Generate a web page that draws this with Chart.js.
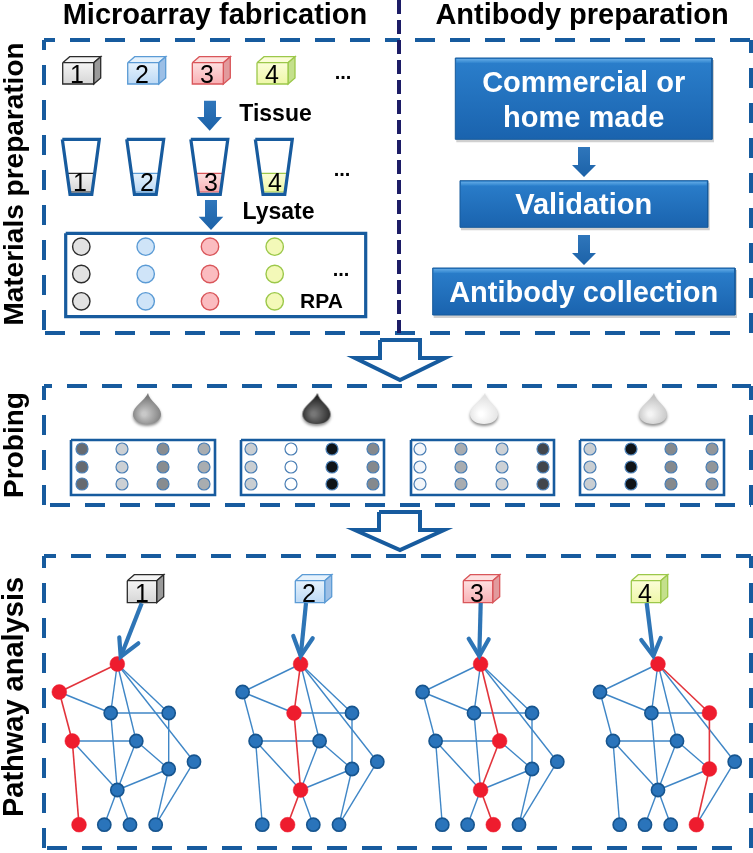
<!DOCTYPE html>
<html><head><meta charset="utf-8">
<style>html,body{margin:0;padding:0;background:#fff}canvas{display:block}</style>
<script src="https://cdn.jsdelivr.net/npm/chart.js@4"></script>
</head><body><canvas id="c" width="753" height="853"></canvas>
<script>
// ---- values ----
const sampleIds = ['1','2','3','4'];
const sampleFill = ['#d6d6d6','#bcd9f5','#f9b0b4','#eef7a8'];
const sampleDot = ['#e2e2e2','#cfe4f8','#fbbcc0','#f3f9b8'];
const sampleFillLight = ['#f4f4f4','#e6f2fc','#fde0e0','#fbfdd8'];
const sampleStroke = ['#2b2b2b','#5b9bd5','#d9565a','#9cc84a'];
const sampleSide = ['#9a9a9a','#9cbfe6','#e29a9c','#c4e08c'];
const cubeLeft = [62.7,127.7,192.3,257];
const beakerLeft = [62.3,126.7,190.8,255.3];
const rpaX = [81.3,145.7,210,274.7];
const rpaY = [246.7,274,301.3];
const cubeLeft2 = [127.3,295.3,463.3,631.3];
const netOffset = [0,183.3,363.3,540.7];
const netNodes = {A:[117.3,664],B:[59.3,692],C:[110.7,713],D:[168.7,713],E:[72.3,741],F:[136.3,741],G:[168.7,769],H:[194,761.7],I:[117.3,790],J:[79,824.7],K:[104.3,824.7],L:[130,824.7],M:[155.7,824.7]};
const netEdges = ['AB','BC','BE','AC','AF','AD','AH','CD','CI','EF','EI','EJ','FG','FI','DG','GI','GM','HM','IK','IL'];
const redPaths = ['ABEJ','ACIK','AFIL','ADGM'];
const sampleArrows = [
 [[141.7,603.3],[120.7,656.7],[119.3,637.3],[138.3,643.3]],
 [[306,603],[300.7,656],[293.3,636],[312.7,638.3]],
 [[480.7,603],[479.3,656],[468.7,638.7],[488.7,639.3]],
 [[646.7,603],[653.3,656],[641.3,640],[660.7,638]]];
const rackLeft = [71,241,411,580];
const rackRight = [215,384,554,724];
const rackDotX = [[82,122,163,204],[251,291,332,373],[420,461,502,543],[590,631,671,712]];
const rackDotY = [449,467,484];
const rackGrey = [['#666a70','#ccd0d4','#888c90','#a9adb0'],['#c9ced2','#ffffff','#0f1418','#85898d'],['#f3f6fa','#a8acb0','#cdd1d5','#42464c'],['#c9ced2','#101418','#85898d','#92969a']];
const dropX = [147,316.5,484,653];
const dropTone = [['#c8c8c8','#7a7a7a'],['#777777','#242424'],['#ffffff','#e2e2e2'],['#f4f4f4','#c4c4c4']];
const buttons = [[455.3,58,712,139.3],[460,180.7,707.7,227.3],[432.7,268,735,315]];
const labels = [
 ['Microarray fabrication',215,24,'bold 29px "Liberation Sans"','#000',0],
 ['Antibody preparation',582,24,'bold 29px "Liberation Sans"','#000',0],
 ['Materials preparation',23,184,'bold 28px "Liberation Sans"','#000',-90],
 ['Probing',23,445,'bold 28px "Liberation Sans"','#000',-90],
 ['Pathway analysis',23,697,'bold 29px "Liberation Sans"','#000',-90],
 ['Tissue',275.5,121,'bold 23px "Liberation Sans"','#000',0],
 ['Lysate',278.5,219,'bold 23px "Liberation Sans"','#000',0],
 ['RPA',321.5,308,'bold 21px "Liberation Sans"','#000',0],
 ['...',343,79,'bold 20px "Liberation Sans"','#000',0],
 ['...',342,176,'bold 20px "Liberation Sans"','#000',0],
 ['...',341,276,'bold 20px "Liberation Sans"','#000',0],
 ['Commercial or',583.7,92,'bold 29px "Liberation Sans"','#fff',0],
 ['home made',583.7,127,'bold 29px "Liberation Sans"','#fff',0],
 ['Validation',583.7,214,'bold 29px "Liberation Sans"','#fff',0],
 ['Antibody collection',583.7,302,'bold 29px "Liberation Sans"','#fff',0]
];
const numberY1 = 83, numberY2 = 191, numberY3 = 602;
const numberX1 = [77,142,207,272], numberX2 = [80,147,211,275], numberX3 = [142,309,477,645];

// marks may sit on the canvas edge: no automatic inset around the plot
Chart.registry.getController('scatter').prototype.getMaxOverflow = function(){return 0;};

// ---- dataset helpers ----
const BLUE='#175b9e';
const gctx=document.createElement('canvas').getContext('2d');
function vgrad(y1,y2,c1,c2){const g=gctx.createLinearGradient(0,y1,0,y2);g.addColorStop(0,c1);g.addColorStop(1,c2);return g;}
const P=a=>a.map(p=>({x:p[0],y:p[1]}));
const ds=[];
function line(pts,color,w,dash,off,cap){ds.push({data:P(pts),showLine:true,fill:false,borderColor:color,borderWidth:w,borderDash:dash||[],borderDashOffset:off||0,borderCapStyle:cap||'butt',pointRadius:0,tension:0,clip:false});}
function poly(pts,fill,stroke,w){const c=pts.concat([pts[0]]);ds.push({data:P(c),showLine:true,fill:'shape',backgroundColor:fill,borderColor:stroke||'rgba(0,0,0,0)',borderWidth:w||0,borderJoinStyle:'miter',pointRadius:0,tension:0,clip:false});}
function dots(pts,fills,strokes,r,w){ds.push({data:P(pts),showLine:false,pointRadius:r,pointBackgroundColor:fills,pointBorderColor:strokes,pointBorderWidth:w,clip:false});}
function rect(x1,y1,x2,y2){return [[x1,y1],[x2,y1],[x2,y2],[x1,y2]];}

// panels
const D=[20,15];
line([[44,40],[399,40]],BLUE,4,D,9);line([[399,40],[751,40]],BLUE,4,D,19);
line([[44,40],[44,333]],BLUE,4,D,10);line([[44,333],[737,333]],BLUE,4,D,34);
line([[751,40],[751,333]],BLUE,4,D,7);
line([[399,0],[399,333]],'#1c1c66',4,[14,6],0);
line([[44,386],[751,386]],BLUE,4,D,12);line([[44,386],[44,505]],BLUE,4,D,6);
line([[44,505],[751,505]],BLUE,4,D,29);line([[751,386],[751,505]],BLUE,4,D,6);
line([[44,556],[751,556]],BLUE,4,D,8);line([[44,556],[44,848]],BLUE,4,D,8);
line([[44,848],[740,848]],BLUE,4,D,32);line([[751,556],[751,848]],BLUE,4,D,8);

// hollow arrows
poly([[380,340],[420,340],[420,358],[445,358],[400,380],[355,358],[380,358]],'#fff',BLUE,4);
poly([[379,512],[420,512],[420,530],[444,530],[400,550],[355,530],[379,530]],'#fff',BLUE,4);

// cubes
function cube(l,t,w,h,i){
 poly([[l,t],[l+7,t-6],[l+w+7,t-6],[l+w,t]],sampleFillLight[i],sampleStroke[i],1.3);
 poly([[l+w,t],[l+w+7,t-6],[l+w+7,t+h-6],[l+w,t+h]],sampleSide[i],sampleStroke[i],1.3);
 poly(rect(l,t,l+w,t+h),vgrad(t,t+h,sampleFillLight[i],sampleFill[i]),sampleStroke[i],1.3);
}
cubeLeft.forEach((l,i)=>cube(l,62.7,31,21.3,i));
cubeLeft2.forEach((l,i)=>cube(l,580.7,29.4,22,i));

// filled down arrows
function block(x1,x2,top,wing,wl,wr,tx,ty){poly([[x1,top],[x2,top],[x2,wing],[wr,wing],[tx,ty],[wl,wing],[x1,wing]],vgrad(top,ty,'#2f76bb','#1c62a8'));}
block(204,216,100.7,117,197,222,209.7,130.7);
block(205,217,200,216.7,198.7,223.3,211,230);
block(578,590,147,165,572,596,584,177);
block(578,590,235,253,572,596,584,265);

// beakers
beakerLeft.forEach((l,i)=>{
 poly([[l+4.5,173.3],[l+32.5,173.3],[l+29.5,192],[l+7.5,192]],vgrad(173,192,sampleFillLight[i],sampleFill[i]),sampleStroke[i],1.2);
 line([[l,139.3],[l+37,139.3],[l+29.5,194.3],[l+7.7,194.3],[l,139.3]],BLUE,3.2);
});

// RPA
line([[65.7,233.3],[365.7,233.3],[365.7,316.7],[65.7,316.7],[65.7,233.3]],BLUE,3.2);
sampleIds.forEach((s,i)=>dots(rpaY.map(y=>[rpaX[i],y]),sampleDot[i],sampleStroke[i],8.7,1.4));

// buttons
buttons.forEach(b=>{
 poly(rect(b[0]+1,b[1]+2,b[2]+2,b[3]+3),'rgba(120,120,120,0.35)');
 poly(rect(b[0],b[1],b[2],b[3]),vgrad(b[1],b[3],'#2b7fcc','#1a63ae'),'#175a9c',1);
 poly(rect(b[0]+1,b[1]+1,b[2]-1,b[1]+5),vgrad(b[1],b[1]+5,'#6db2ea','#2f84cf'));
});

// drops
function dropCanvas(t){const c=document.createElement('canvas');c.width=34;c.height=40;const x=c.getContext('2d');
 x.shadowColor='rgba(0,0,0,.45)';x.shadowBlur=3;x.shadowOffsetY=2;
 const g=x.createRadialGradient(14,23,2,17,22,16);g.addColorStop(0,t[0]);g.addColorStop(1,t[1]);x.fillStyle=g;
 x.beginPath();x.moveTo(18,2);x.bezierCurveTo(19,10,31,15,31,23);x.bezierCurveTo(31,29,25,33,17,33);x.bezierCurveTo(9,33,3,29,3,23);x.bezierCurveTo(3,15,15,10,18,2);x.closePath();x.fill();return c;}
ds.push({data:P(dropX.map(x=>[x,411])),showLine:false,pointStyle:dropTone.map(dropCanvas),pointRadius:17,clip:false});

// racks
rackLeft.forEach((l,r)=>{
 line([[l,440],[rackRight[r],440],[rackRight[r],495],[l,495],[l,440]],BLUE,2.6);
 rackDotX[r].forEach((x,c)=>dots(rackDotY.map(y=>[x,y]),rackGrey[r][c],'#4b7fb5',6,1.2));
});

// networks
netOffset.forEach((dx,n)=>{
 const red=redPaths[n];const redEdge=e=>{for(let i=0;i<red.length-1;i++){if(e.includes(red[i])&&e.includes(red[i+1]))return true;}return false;};
 netEdges.filter(e=>!redEdge(e)).forEach(e=>line([[netNodes[e[0]][0]+dx,netNodes[e[0]][1]],[netNodes[e[1]][0]+dx,netNodes[e[1]][1]]],'#3f86c6',1.4));
 netEdges.filter(redEdge).forEach(e=>line([[netNodes[e[0]][0]+dx,netNodes[e[0]][1]],[netNodes[e[1]][0]+dx,netNodes[e[1]][1]]],'#e2343c',1.6));
 const keys=Object.keys(netNodes);
 dots(keys.filter(k=>!red.includes(k)).map(k=>[netNodes[k][0]+dx,netNodes[k][1]]),'#2a74bb','#17558f',6.6,1.6);
 dots(keys.filter(k=>red.includes(k)).map(k=>[netNodes[k][0]+dx,netNodes[k][1]]),'#ee1c2e','#ee1c2e',7.4,0.5);
 const a=sampleArrows[n];
 line([a[0],a[1]],'#2e75b6',4.2);
 line([a[2],a[1],a[3]],'#2e75b6',4.2,null,0,'round');
});

ds.reverse(); // Chart.js paints dataset 0 last

const textPlugin={id:'text',afterDatasetsDraw(ch){const c=ch.ctx,xs=ch.scales.x,ys=ch.scales.y;c.save();c.textAlign='center';c.textBaseline='alphabetic';
 const put=(t,x,y,f,col,rot)=>{c.save();c.translate(xs.getPixelForValue(x),ys.getPixelForValue(y));c.rotate(rot*Math.PI/180);c.font=f;c.fillStyle=col;c.fillText(t,0,0);c.restore();};
 labels.forEach(l=>put(...l));
 sampleIds.forEach((s,i)=>{const f='25px "Liberation Sans"';put(s,numberX1[i],numberY1,f,'#000',0);put(s,numberX2[i],numberY2,f,'#000',0);put(s,numberX3[i],numberY3,f,'#000',0);});
 c.restore();}};

new Chart(document.getElementById('c'),{type:'scatter',data:{datasets:ds},plugins:[textPlugin],options:{
 responsive:false,animation:false,events:[],layout:{padding:0},
 plugins:{legend:{display:false},tooltip:{enabled:false},title:{display:false}},
 scales:{x:{type:'linear',min:0,max:753,display:false},y:{type:'linear',min:0,max:853,reverse:true,display:false}}}});
</script></body></html>
